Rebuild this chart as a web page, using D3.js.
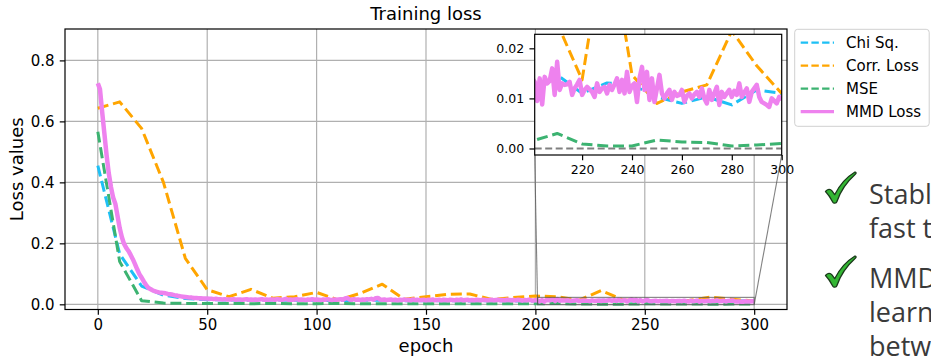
<!DOCTYPE html>
<html>
<head>
<meta charset="utf-8">
<script src="https://cdn.jsdelivr.net/npm/d3@7"></script>
<style>
  html, body { margin: 0; padding: 0; background: #fff; overflow: hidden; }
  svg { display: block; }
</style>
</head>
<body>
<svg id="chart" width="931" height="358"></svg>
<script>
// ---- data -------------------------------------------------------------
// Dashed baselines are logged every 10 epochs, the MMD loss every epoch.
const coarseEpochs = d3.range(0, 301, 10);
const chiSq = [0.455, 0.165, 0.06, 0.03, 0.019, 0.015, 0.014, 0.013, 0.014, 0.013,
  0.013, 0.012, 0.013, 0.013, 0.012, 0.012, 0.012, 0.011, 0.012, 0.011,
  0.011, 0.0147, 0.011, 0.0131, 0.0127, 0.0103, 0.0090, 0.0103, 0.0087, 0.0117, 0.011];
const corrLoss = [0.643, 0.664, 0.577, 0.40, 0.151, 0.048, 0.025, 0.049, 0.020, 0.025,
  0.039, 0.014, 0.036, 0.066, 0.017, 0.025, 0.033, 0.034, 0.016, 0.022,
  0.027, 0.025, 0.0137, 0.045, 0.0147, 0.009, 0.0113, 0.0127, 0.0235, 0.0165, 0.011];
const mse = [0.566, 0.14, 0.012, 0.004, 0.003, 0.003, 0.003, 0.002, 0.003, 0.002,
  0.002, 0.003, 0.002, 0.002, 0.002, 0.002, 0.002, 0.002, 0.002, 0.002,
  0.0015, 0.003, 0.0009, 0.0005, 0.0005, 0.0017, 0.0013, 0.0012, 0.0005, 0.0007, 0.001];

const fineEpochs = d3.range(0, 301);
const mmdLoss = [
  // 0-50
  0.725, 0.705, 0.63, 0.56, 0.49, 0.43, 0.385, 0.35, 0.33, 0.29,
  0.25, 0.22, 0.198, 0.185, 0.175, 0.162, 0.148, 0.132, 0.115, 0.099,
  0.088, 0.075, 0.064, 0.055, 0.050, 0.046, 0.043, 0.041, 0.039, 0.038,
  0.037, 0.036, 0.034, 0.033, 0.032, 0.030, 0.029, 0.027, 0.026, 0.025,
  0.024, 0.023, 0.022, 0.022, 0.021, 0.021, 0.020, 0.020, 0.019, 0.019,
  0.019,
  // 51-200
  0.018, 0.018, 0.017, 0.018, 0.017, 0.017, 0.016, 0.017, 0.016, 0.016,
  0.016, 0.017, 0.015, 0.016, 0.016, 0.015, 0.016, 0.017, 0.015, 0.016,
  0.015, 0.016, 0.015, 0.016, 0.017, 0.015, 0.016, 0.015, 0.016, 0.016,
  0.015, 0.017, 0.016, 0.015, 0.016, 0.018, 0.015, 0.016, 0.015, 0.016,
  0.017, 0.015, 0.016, 0.015, 0.014, 0.016, 0.015, 0.017, 0.015, 0.016,
  0.015, 0.014, 0.016, 0.015, 0.017, 0.015, 0.014, 0.016, 0.015, 0.016,
  0.017, 0.015, 0.019, 0.021, 0.016, 0.015, 0.017, 0.015, 0.016, 0.014,
  0.016, 0.015, 0.017, 0.016, 0.018, 0.015, 0.020, 0.021, 0.016, 0.015,
  0.016, 0.014, 0.015, 0.016, 0.014, 0.015, 0.013, 0.015, 0.014, 0.016,
  0.014, 0.015, 0.013, 0.016, 0.014, 0.015, 0.013, 0.014, 0.015, 0.013,
  0.015, 0.014, 0.016, 0.013, 0.014, 0.015, 0.013, 0.015, 0.014, 0.013,
  0.015, 0.014, 0.013, 0.015, 0.014, 0.016, 0.013, 0.014, 0.015, 0.013,
  0.014, 0.013, 0.015, 0.014, 0.013, 0.015, 0.014, 0.013, 0.014, 0.015,
  0.013, 0.014, 0.015, 0.013, 0.014, 0.013, 0.015, 0.014, 0.013, 0.014,
  0.013, 0.015, 0.014, 0.012, 0.014, 0.013, 0.015, 0.013, 0.012, 0.014,
  // 201-300
  0.0133, 0.0095, 0.0140, 0.0088, 0.0143, 0.0130, 0.0135, 0.0160, 0.0107, 0.0173,
  0.0117, 0.0130, 0.0127, 0.0128, 0.0133, 0.0107, 0.0120, 0.0128, 0.0137, 0.0107,
  0.0117, 0.0123, 0.0118, 0.0113, 0.0103, 0.0130, 0.0113, 0.0120, 0.0123, 0.0110,
  0.0127, 0.0117, 0.0128, 0.0140, 0.0113, 0.0137, 0.0110, 0.0153, 0.0113, 0.0125,
  0.0130, 0.0093, 0.0140, 0.0163, 0.0117, 0.0153, 0.0097, 0.0140, 0.0093, 0.0120,
  0.0147, 0.0110, 0.0100, 0.0110, 0.0117, 0.0097, 0.0113, 0.0105, 0.0107, 0.0117,
  0.0093, 0.0105, 0.0110, 0.0100, 0.0108, 0.0113, 0.0103, 0.0120, 0.0100, 0.0090,
  0.0117, 0.0097, 0.0110, 0.0123, 0.0087, 0.0113, 0.0103, 0.0110, 0.0117, 0.0103,
  0.0115, 0.0107, 0.0130, 0.0103, 0.0112, 0.0120, 0.0093, 0.0113, 0.0120, 0.0127,
  0.0103, 0.0093, 0.0090, 0.0087, 0.0083, 0.0100, 0.0095, 0.0090, 0.0103, 0.0097
];

const seriesNames = ["Chi Sq.", "Corr. Loss", "MSE", "MMD Loss"];
const seriesColors = ["#1ec0f5", "#ffa500", "#3cb371", "#ee82ee"];

const mainXTicks = [0, 50, 100, 150, 200, 250, 300];
const mainYTicks = [0.0, 0.2, 0.4, 0.6, 0.8];
const insetXTicks = [220, 240, 260, 280, 300];
const insetYTicks = [0.00, 0.01, 0.02];

const bullets = [
  ["Stable and", "fast training"],
  ["MMD loss", "learns correlations", "between features"]
];

// ---- layout -----------------------------------------------------------
const svg = d3.select("#chart");
const FONT = "'DejaVu Sans', sans-serif";

const main = { left: 65, right: 787, top: 29, bottom: 309.5 };
const ins = { left: 534.7, right: 781.7, top: 34.3, bottom: 155 };

const x = d3.scaleLinear().domain([-15, 315]).range([main.left, main.right]);
const y = d3.scaleLinear().domain([-0.017, 0.903]).range([main.bottom, main.top]);
const xi = d3.scaleLinear().domain([201, 300]).range([ins.left, ins.right]);
const yi = d3.scaleLinear().domain([-0.0013, 0.0228]).range([ins.bottom, ins.top]);

const series = [
  { name: seriesNames[0], color: seriesColors[0], pts: coarseEpochs.map((e, i) => [e, chiSq[i]]), dashed: true },
  { name: seriesNames[1], color: seriesColors[1], pts: coarseEpochs.map((e, i) => [e, corrLoss[i]]), dashed: true },
  { name: seriesNames[2], color: seriesColors[2], pts: coarseEpochs.map((e, i) => [e, mse[i]]), dashed: true },
  { name: seriesNames[3], color: seriesColors[3], pts: fineEpochs.map((e, i) => [e, mmdLoss[i]]), dashed: false }
];

const defs = svg.append("defs");
defs.append("clipPath").attr("id", "clipMain").append("rect")
  .attr("x", main.left).attr("y", main.top)
  .attr("width", main.right - main.left).attr("height", main.bottom - main.top);
defs.append("clipPath").attr("id", "clipInset").append("rect")
  .attr("x", ins.left).attr("y", ins.top)
  .attr("width", ins.right - ins.left).attr("height", ins.bottom - ins.top);

// ---- main axes --------------------------------------------------------
const gridG = svg.append("g").attr("stroke", "#b0b0b0").attr("stroke-width", 1.2);
mainXTicks.forEach(t => gridG.append("line")
  .attr("x1", x(t)).attr("x2", x(t)).attr("y1", main.top).attr("y2", main.bottom));
mainYTicks.forEach(t => gridG.append("line")
  .attr("x1", main.left).attr("x2", main.right).attr("y1", y(t)).attr("y2", y(t)));

function drawSeries(g, sx, sy) {
  series.forEach(s => {
    const line = d3.line().x(d => sx(d[0])).y(d => sy(d[1]));
    g.append("path")
      .attr("d", line(s.pts))
      .attr("fill", "none")
      .attr("stroke", s.color)
      .attr("stroke-width", s.dashed ? 3 : 4.5)
      .attr("stroke-linejoin", "round")
      .attr("stroke-dasharray", s.dashed ? "11,4.8" : null);
  });
}

const mainLines = svg.append("g").attr("clip-path", "url(#clipMain)");
drawSeries(mainLines, x, y);

function styleAxis(g, size) {
  g.selectAll("path.domain").remove();
  g.selectAll(".tick line").attr("stroke", "#000").attr("stroke-width", 1.2);
  g.selectAll(".tick text").attr("fill", "#000")
    .style("font-family", FONT).style("font-size", size + "px");
}

const xAxisG = svg.append("g").attr("transform", `translate(0,${main.bottom})`)
  .call(d3.axisBottom(x).tickValues(mainXTicks).tickFormat(d3.format("d"))
    .tickSize(5.25).tickPadding(5));
styleAxis(xAxisG, 15);
const yAxisG = svg.append("g").attr("transform", `translate(${main.left},0)`)
  .call(d3.axisLeft(y).tickValues(mainYTicks).tickFormat(d3.format(".1f"))
    .tickSize(5.25).tickPadding(5.25));
styleAxis(yAxisG, 15);

svg.append("rect")
  .attr("x", main.left).attr("y", main.top)
  .attr("width", main.right - main.left).attr("height", main.bottom - main.top)
  .attr("fill", "none").attr("stroke", "#000").attr("stroke-width", 1.2);

svg.append("text").text("Training loss")
  .attr("x", (main.left + main.right) / 2).attr("y", 20)
  .attr("text-anchor", "middle")
  .style("font-family", FONT).style("font-size", "18px");
svg.append("text").text("epoch")
  .attr("x", (main.left + main.right) / 2).attr("y", 351.5)
  .attr("text-anchor", "middle")
  .style("font-family", FONT).style("font-size", "18px");
svg.append("text").text("Loss values")
  .attr("transform", `translate(23,${(main.top + main.bottom) / 2}) rotate(-90)`)
  .attr("text-anchor", "middle")
  .style("font-family", FONT).style("font-size", "18px");

// ---- zoom region marker and connectors ------------------------------
const markG = svg.append("g").attr("fill", "none").attr("stroke", "#555").attr("stroke-width", 1.1)
  .attr("stroke-opacity", 0.75);
markG.append("rect")
  .attr("x", x(201)).attr("y", y(0.0228))
  .attr("width", x(300) - x(201)).attr("height", y(-0.0013) - y(0.0228));
markG.append("line")
  .attr("x1", ins.left).attr("y1", ins.bottom)
  .attr("x2", x(201)).attr("y2", y(-0.0013));
markG.append("line")
  .attr("x1", ins.right).attr("y1", ins.bottom)
  .attr("x2", x(300)).attr("y2", y(-0.0013));

// ---- inset axes -------------------------------------------------------
svg.append("rect")
  .attr("x", ins.left).attr("y", ins.top)
  .attr("width", ins.right - ins.left).attr("height", ins.bottom - ins.top)
  .attr("fill", "#fff");
const insetLines = svg.append("g").attr("clip-path", "url(#clipInset)");
insetLines.append("line")
  .attr("x1", ins.left).attr("x2", ins.right)
  .attr("y1", yi(0)).attr("y2", yi(0))
  .attr("stroke", "#808080").attr("stroke-width", 2).attr("stroke-dasharray", "7,3.5");
drawSeries(insetLines, xi, yi);

const xiAxisG = svg.append("g").attr("transform", `translate(0,${ins.bottom})`)
  .call(d3.axisBottom(xi).tickValues(insetXTicks).tickFormat(d3.format("d"))
    .tickSize(5.25).tickPadding(5));
styleAxis(xiAxisG, 12.5);
const yiAxisG = svg.append("g").attr("transform", `translate(${ins.left},0)`)
  .call(d3.axisLeft(yi).tickValues(insetYTicks).tickFormat(d3.format(".2f"))
    .tickSize(5.25).tickPadding(5.25));
styleAxis(yiAxisG, 12.5);

svg.append("rect")
  .attr("x", ins.left).attr("y", ins.top)
  .attr("width", ins.right - ins.left).attr("height", ins.bottom - ins.top)
  .attr("fill", "none").attr("stroke", "#000").attr("stroke-width", 1.2);

// ---- legend -----------------------------------------------------------
const leg = svg.append("g");
leg.append("rect")
  .attr("x", 794.7).attr("y", 29.3).attr("width", 134.5).attr("height", 97)
  .attr("rx", 3).attr("fill", "#fff").attr("fill-opacity", 0.85)
  .attr("stroke", "#d0d0d0").attr("stroke-width", 1);
series.forEach((s, i) => {
  const cy = 42.7 + i * 23;
  leg.append("line")
    .attr("x1", 800.7).attr("x2", 834).attr("y1", cy).attr("y2", cy)
    .attr("stroke", s.color)
    .attr("stroke-width", s.dashed ? 2.3 : 3.3)
    .attr("stroke-dasharray", s.dashed ? "7.4,3.3" : null);
  leg.append("text").text(s.name)
    .attr("x", 846).attr("y", cy + 5.3)
    .style("font-family", FONT).style("font-size", "15px");
});

// ---- side notes ------------------------------------------------------
const checkPath = "M0,18 C2,15.5 4.5,15.5 6,17.5 L8.5,21 C13,12 19,5 27,0.2 " +
  "C28.2,-0.3 28.8,1 27.8,1.9 C20,9 14,17 10.5,27.5 C10,29 7.5,29.3 6.8,28 C5,24.5 3,21 0,18 Z";
const noteBaselines = [[204, 238], [288, 322, 356]];
const checkTops = [172, 256];
bullets.forEach((lines, k) => {
  svg.append("path")
    .attr("d", checkPath)
    .attr("transform", `translate(825.5,${checkTops[k]}) scale(1.08)`)
    .attr("fill", "#33b633").attr("stroke", "#1a3a1a").attr("stroke-width", 1.2)
    .attr("stroke-linejoin", "round");
  lines.forEach((t, j) => {
    svg.append("text").text(t)
      .attr("x", 869).attr("y", noteBaselines[k][j])
      .attr("fill", "#3a3a3a")
      .style("font-family", "'Open Sans', 'Noto Sans', sans-serif")
      .style("font-size", "27px");
  });
});
</script>
</body>
</html>
